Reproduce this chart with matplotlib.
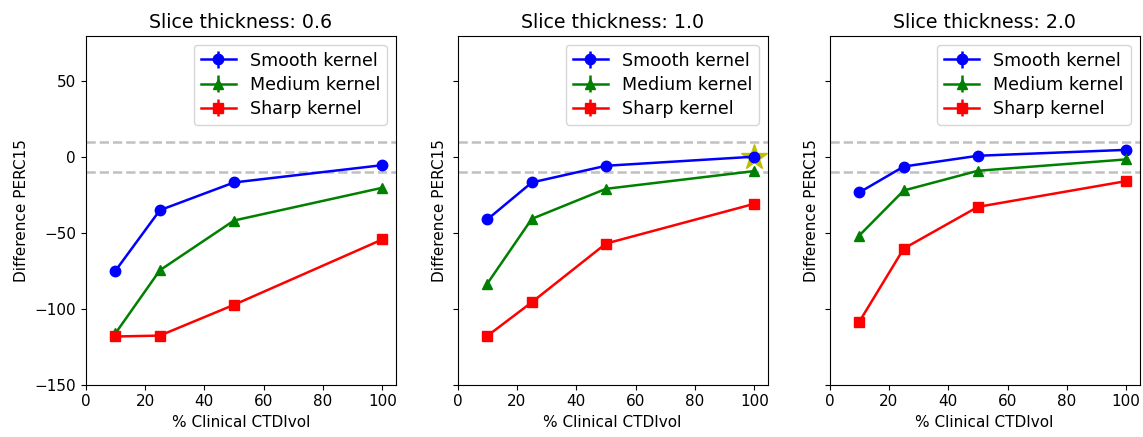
import numpy as np
import matplotlib
matplotlib.use("Agg")
import matplotlib.pyplot as plt

dose = [10, 25, 50, 100]
thicknesses = ["0.6", "1.0", "2.0"]

# difference PERC15 per slice thickness
smooth = [[-75, -35, -16.7, -5.3],
          [-41.1, -16.7, -5.7, 0.3],
          [-23.3, -6.2, 0.9, 4.8]]
medium = [[-116.3, -74.6, -41.8, -20.2],
          [-83.4, -40.7, -20.9, -9.2],
          [-51.7, -22.0, -9.0, -1.5]]
sharp = [[-118.3, -117.7, -97.4, -54.3],
         [-117.9, -95.7, -57.0, -30.8],
         [-108.6, -60.3, -32.8, -15.8]]
err = [0, 0, 0, 0]

# best point
star_x = [100]
star_y = [0]

fig, axs = plt.subplots(1, 3, figsize=(11.43, 4.37), dpi=100, sharey=True)
fig.subplots_adjust(left=0.075, right=0.997, bottom=0.12, top=0.918, wspace=0.2)

for i, ax in enumerate(axs):
    if i == 1:
        ax.plot(star_x, star_y, '*', color='y', markersize=19)
    ax.errorbar(dose, smooth[i], yerr=err, fmt='b-o', lw=1.8, markersize=7.5, label='Smooth kernel')
    ax.errorbar(dose, medium[i], yerr=err, fmt='g-^', lw=1.8, markersize=7.5, label='Medium kernel')
    ax.errorbar(dose, sharp[i], yerr=err, fmt='r-s', lw=1.8, markersize=7.5, label='Sharp kernel')
    ax.axhline(10, color='silver', ls='--', lw=1.8)
    ax.axhline(-10, color='silver', ls='--', lw=1.8)
    ax.set_xlim(0, 104.5)
    ax.set_ylim(-150, 80)
    ax.set_yticks([-150, -100, -50, 0, 50])
    ax.set_title("Slice thickness: " + thicknesses[i], fontsize=13.7)
    ax.set_xlabel("% Clinical CTDIvol", fontsize=11)
    ax.set_ylabel("Difference PERC15", fontsize=11)
    ax.tick_params(labelsize=11)
    ax.legend(loc='upper right', fontsize=12.6, labelspacing=0.35)

plt.savefig("out.png", dpi=100)
